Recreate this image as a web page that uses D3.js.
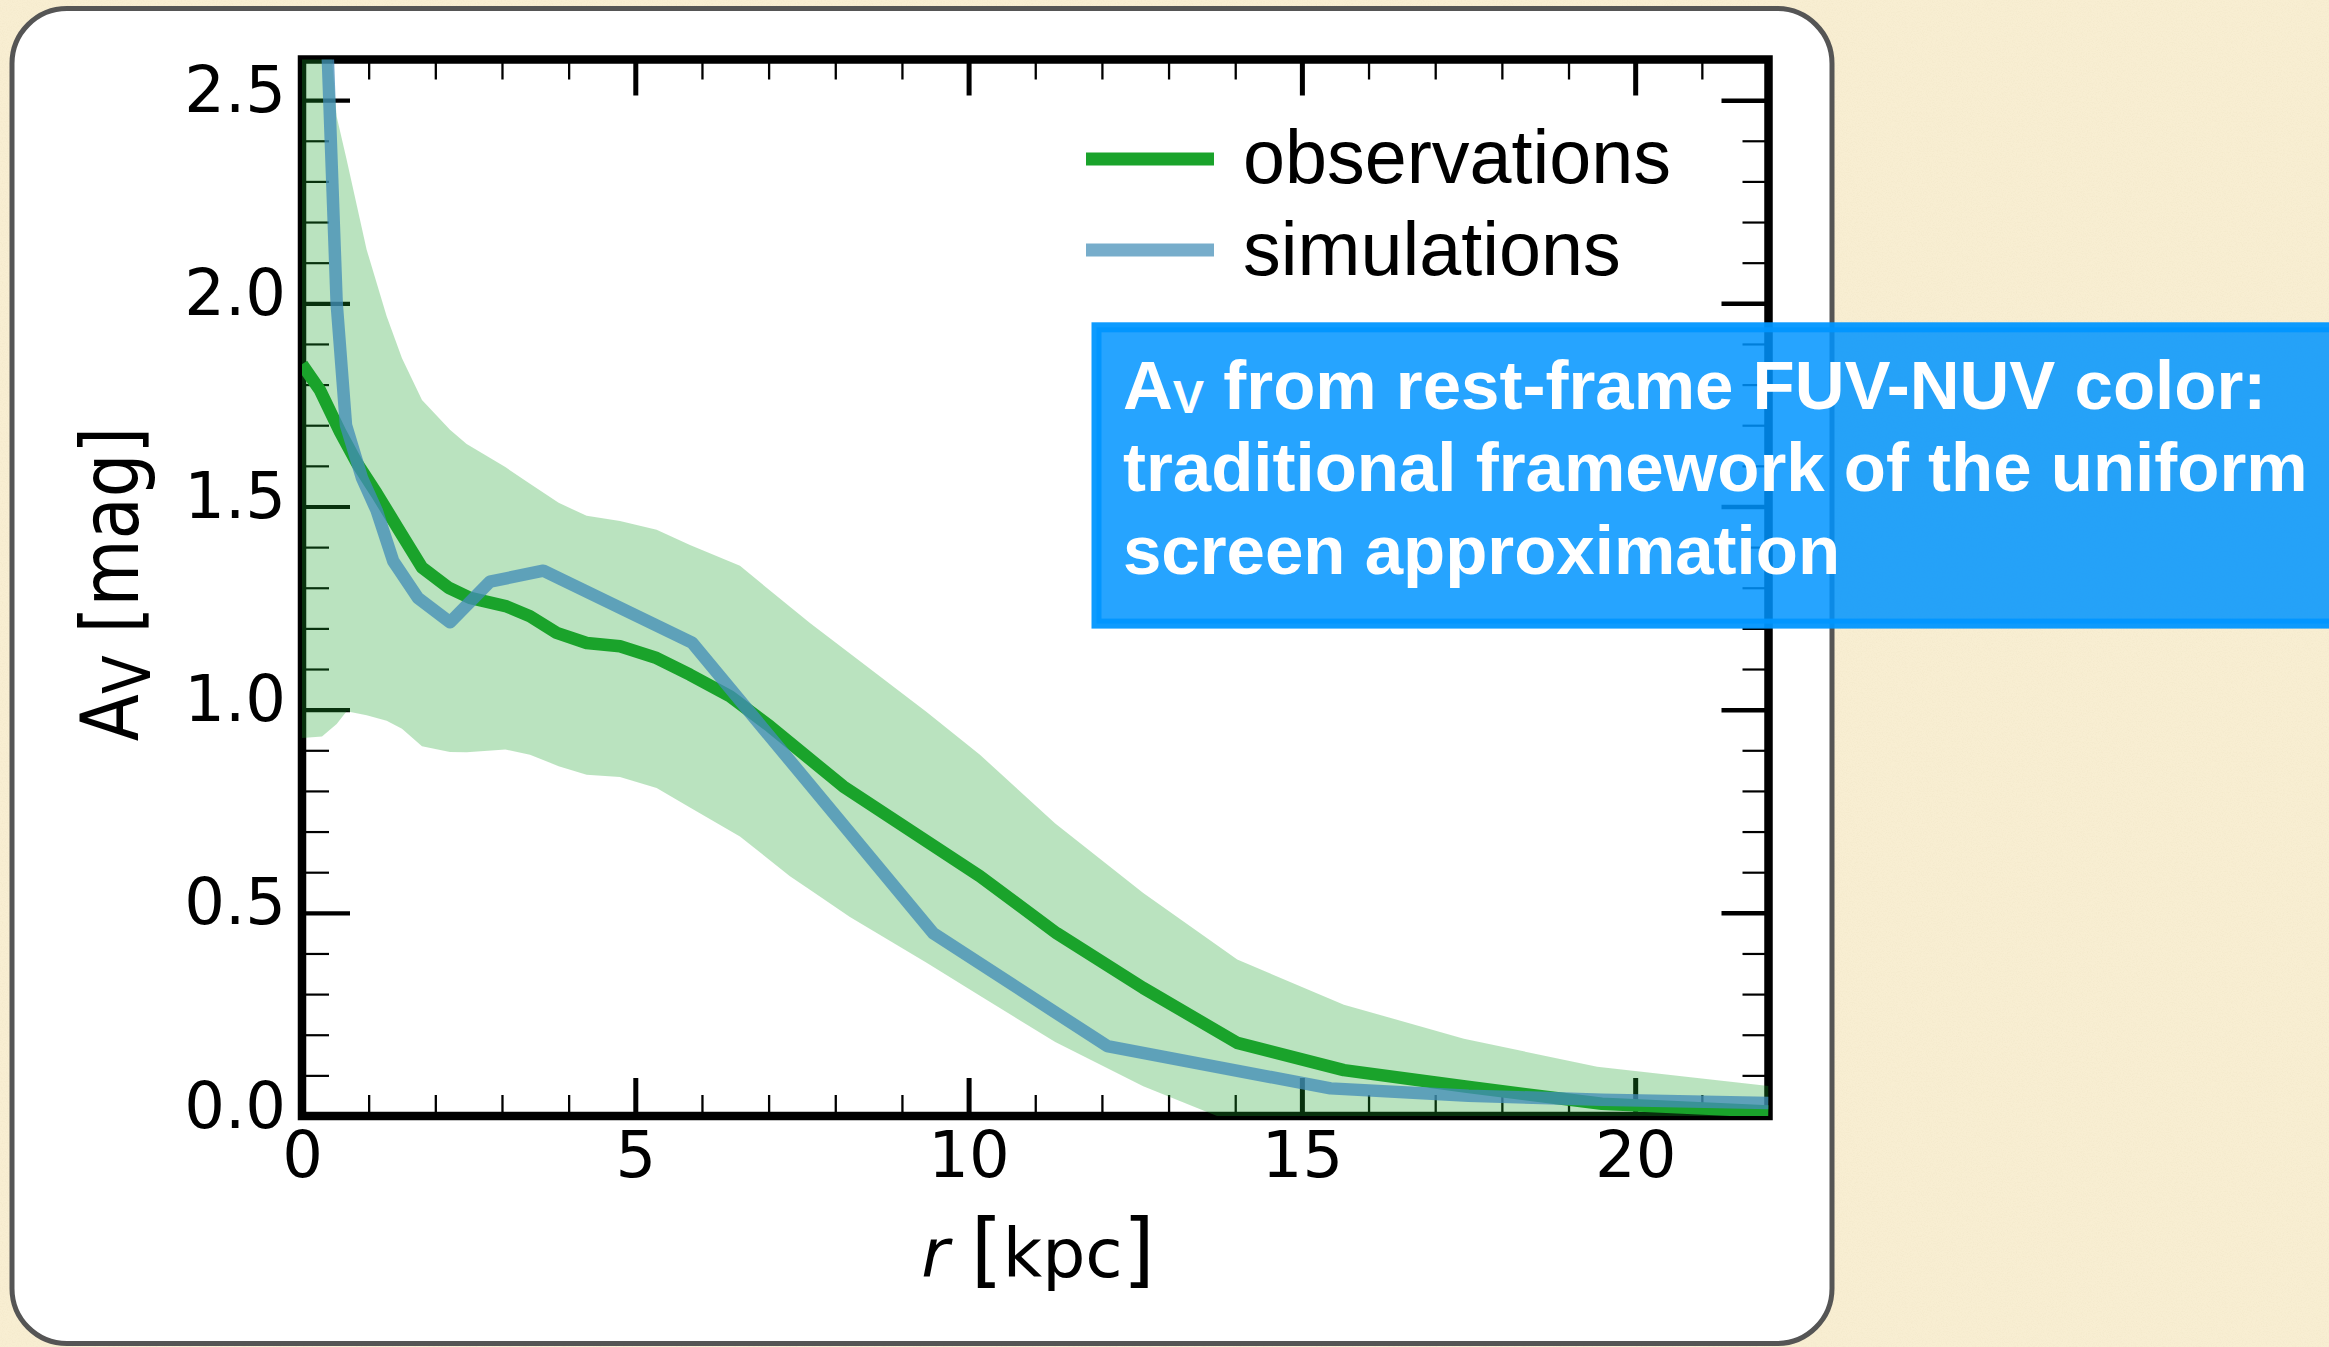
<!DOCTYPE html>
<html>
<head>
<meta charset="utf-8">
<script src="https://cdn.jsdelivr.net/npm/d3@7"></script>
<style>
  html, body { margin: 0; padding: 0; background: #f8eed2; overflow: hidden; }
  svg { display: block; }
  text { white-space: pre; }
</style>
</head>
<body>
<svg id="chart" width="2329" height="1347"></svg>
<script>
// Radial profile of dust attenuation A_V: observed median with scatter band, and simulated profile

// observations (median profile)
const radiusObs = [0, 0.27, 0.57, 0.82, 1.12, 1.47, 1.80, 2.2, 2.52, 3.07, 3.42, 3.82, 4.27, 4.77, 5.32, 5.82, 6.42, 7.02, 8.12, 10.17, 11.32, 12.62, 14.03, 15.63, 17.48, 19.5, 22];
const avObs     = [1.85, 1.786, 1.684, 1.608, 1.532, 1.438, 1.35, 1.30, 1.275, 1.254, 1.23, 1.189, 1.164, 1.156, 1.127, 1.086, 1.033, 0.959, 0.811, 0.59, 0.45, 0.315, 0.18, 0.113, 0.072, 0.03, 0.011];

// observations (scatter envelope)
const radiusBand = [0, 0.3, 0.52, 0.67, 0.97, 1.27, 1.5, 1.8, 2.22, 2.47, 3.05, 3.42, 3.85, 4.27, 4.77, 5.32, 5.82, 6.57, 7.32, 7.62, 8.22, 9.37, 10.17, 11.3, 12.62, 14.03, 15.63, 17.43, 19.43, 22];
const bandHigh   = [3.6, 2.9, 2.46, 2.353, 2.132, 1.968, 1.865, 1.762, 1.689, 1.654, 1.597, 1.556, 1.509, 1.477, 1.464, 1.443, 1.405, 1.354, 1.253, 1.213, 1.138, 0.994, 0.889, 0.72, 0.549, 0.385, 0.274, 0.19, 0.121, 0.074];
const bandLow    = [0.93, 0.934, 0.965, 0.996, 0.986, 0.973, 0.953, 0.910, 0.896, 0.895, 0.902, 0.889, 0.861, 0.840, 0.834, 0.807, 0.759, 0.688, 0.59, 0.557, 0.49, 0.377, 0.296, 0.182, 0.073, -0.02, -0.06, -0.09, -0.1, -0.12];

// simulations
const radiusSim = [0.3, 0.52, 0.66, 0.9, 1.12, 1.37, 1.74, 2.22, 2.82, 3.62, 5.85, 9.47, 12.08, 15.43, 17.5, 19.5, 22];
const avSim     = [3.0, 2.0, 1.70, 1.57, 1.49, 1.365, 1.275, 1.215, 1.315, 1.342, 1.165, 0.45, 0.172, 0.068, 0.05, 0.04, 0.032];

// axes
const xMajorTicks = [0, 5, 10, 15, 20];
const xMinorTicks = [1, 2, 3, 4, 6, 7, 8, 9, 11, 12, 13, 14, 16, 17, 18, 19, 21];
const yMajorTicks = [0, 0.5, 1.0, 1.5, 2.0, 2.5];
const yMinorTicks = [0.1, 0.2, 0.3, 0.4, 0.6, 0.7, 0.8, 0.9, 1.1, 1.2, 1.3, 1.4, 1.6, 1.7, 1.8, 1.9, 2.1, 2.2, 2.3, 2.4];

const seriesNames = ["observations", "simulations"];
const noteLines = [" from rest-frame FUV-NUV color:", "traditional framework of the uniform", "screen approximation"];

const W = 2329, H = 1347;
const GREEN = "#1aa32b";
const BLUE = "rgb(67,141,183)";

const svg = d3.select("#chart");
const defs = svg.append("defs");

// light paper grain for the backdrop
const grain = defs.append("filter").attr("id", "grain")
  .attr("x", 0).attr("y", 0).attr("width", "100%").attr("height", "100%");
grain.append("feTurbulence").attr("type", "fractalNoise")
  .attr("baseFrequency", 0.8).attr("numOctaves", 2).attr("seed", 7).attr("result", "n");
grain.append("feColorMatrix").attr("in", "n").attr("type", "matrix")
  .attr("values", "0 0 0 0 0.62  0 0 0 0 0.52  0 0 0 0 0.30  0.45 0 0 0 -0.2");

svg.append("rect").attr("width", W).attr("height", H).attr("fill", "#f8eed2");
svg.append("rect").attr("width", W).attr("height", H).attr("filter", "url(#grain)").attr("opacity", 0.5);

// white card
svg.append("rect")
  .attr("x", 12).attr("y", 8.5).attr("width", 1820).attr("height", 1335).attr("rx", 55)
  .attr("fill", "#fff").attr("stroke", "#555").attr("stroke-width", 5);

// scales
const x = d3.scaleLinear().domain([0, 22]).range([302, 1768.5]);
const y = d3.scaleLinear().domain([0, 2.6]).range([1116, 59.5]);
const [px0, px1] = x.range();
const [py0, py1] = y.range();

defs.append("clipPath").attr("id", "plotClip")
  .append("rect").attr("x", px0).attr("y", py1).attr("width", px1 - px0).attr("height", py0 - py1);

// ticks on all four sides, pointing inward
const axesG = svg.append("g");
function tickRow(gen, transform, values, size, width, fmt) {
  const g = axesG.append("g").attr("transform", transform)
    .call(gen.tickValues(values).tickSize(size).tickSizeOuter(0).tickFormat(fmt || ""));
  g.select(".domain").remove();
  g.selectAll(".tick line").attr("stroke", "#000").attr("stroke-width", width);
  g.attr("font-family", "DejaVu Sans").attr("font-size", 64);
  return g;
}

tickRow(d3.axisBottom(x), `translate(0,${py0})`, xMinorTicks, -21, 2.3);
const xb = tickRow(d3.axisBottom(x), `translate(0,${py0})`, xMajorTicks, -38, 5, d3.format("d"));
xb.selectAll(".tick text").attr("y", 61).attr("dy", 0).attr("fill", "#000");

tickRow(d3.axisTop(x), `translate(0,${py1})`, xMinorTicks, -20, 2.3);
tickRow(d3.axisTop(x), `translate(0,${py1})`, xMajorTicks, -36, 5);

tickRow(d3.axisLeft(y), `translate(${px0},0)`, yMinorTicks, -27, 2.2);
const yl = tickRow(d3.axisLeft(y), `translate(${px0},0)`, yMajorTicks, -48, 4.2, d3.format(".1f"));
yl.selectAll(".tick text").attr("x", -16).attr("y", 11).attr("dy", 0).attr("fill", "#000");

tickRow(d3.axisRight(y), `translate(${px1},0)`, yMinorTicks, -26, 2.2);
tickRow(d3.axisRight(y), `translate(${px1},0)`, yMajorTicks, -47, 4.5);

// spines
axesG.append("rect")
  .attr("x", px0).attr("y", py1).attr("width", px1 - px0).attr("height", py0 - py1)
  .attr("fill", "none").attr("stroke", "#000").attr("stroke-width", 8.5);

// data layer
const plot = svg.append("g").attr("clip-path", "url(#plotClip)");

const bandData = radiusBand.map((r, i) => ({ r, lo: bandLow[i], hi: bandHigh[i] }));
plot.append("path")
  .datum(bandData)
  .attr("d", d3.area().x(d => x(d.r)).y0(d => y(d.lo)).y1(d => y(d.hi)))
  .attr("fill", GREEN).attr("fill-opacity", 0.3);

const line = d3.line().x(d => x(d[0])).y(d => y(d[1]));
plot.append("path")
  .datum(radiusObs.map((r, i) => [r, avObs[i]]))
  .attr("d", line)
  .attr("fill", "none").attr("stroke", GREEN).attr("stroke-width", 12.5)
  .attr("stroke-linejoin", "round");

plot.append("path")
  .datum(radiusSim.map((r, i) => [r, avSim[i]]))
  .attr("d", line)
  .attr("fill", "none").attr("stroke", BLUE).attr("stroke-opacity", 0.77).attr("stroke-width", 12.5)
  .attr("stroke-linejoin", "round");

// axis titles
const yTitle = svg.append("text")
  .attr("transform", "translate(138,584) rotate(-90) scale(0.86,1)")
  .attr("text-anchor", "middle").attr("font-family", "DejaVu Sans").attr("font-size", 80).attr("fill", "#000");
yTitle.append("tspan").text("A");
yTitle.append("tspan").attr("font-size", 66).attr("dy", 12).text("V");
yTitle.append("tspan").attr("dy", -12).text(" [mag]");

const xTitle = svg.append("text")
  .attr("x", 1038).attr("y", 1277)
  .attr("text-anchor", "middle").attr("font-family", "DejaVu Sans").attr("font-size", 68).attr("fill", "#000");
xTitle.append("tspan").attr("font-style", "italic").text("r");
xTitle.append("tspan").text(" ");
xTitle.append("tspan").attr("font-size", 82).text("[");
xTitle.append("tspan").text("kpc");
xTitle.append("tspan").attr("font-size", 82).text("]");

// legend
const legend = svg.append("g");
const legendRows = [
  { name: seriesNames[0], color: GREEN, opacity: 1, ly: 159, ty: 183 },
  { name: seriesNames[1], color: BLUE, opacity: 0.72, ly: 250, ty: 274.5 }
];
legendRows.forEach(row => {
  legend.append("line")
    .attr("x1", 1086).attr("x2", 1214).attr("y1", row.ly).attr("y2", row.ly)
    .attr("stroke", row.color).attr("stroke-opacity", row.opacity).attr("stroke-width", 13);
  legend.append("text")
    .attr("x", 1243).attr("y", row.ty)
    .attr("font-family", "Liberation Sans, Arial, Helvetica, sans-serif").attr("font-size", 75.5)
    .attr("fill", "#000").text(row.name);
});

// annotation box
const note = svg.append("g");
note.append("rect")
  .attr("x", 1096.5).attr("y", 327.3).attr("width", 1260).attr("height", 296.3)
  .attr("fill", "rgb(0,148,255)").attr("fill-opacity", 0.85)
  .attr("stroke", "rgb(0,150,255)").attr("stroke-opacity", 0.95).attr("stroke-width", 10);

const noteFont = "Liberation Sans, Arial, Helvetica, sans-serif";
const first = note.append("text")
  .attr("x", 1123).attr("y", 408.5)
  .attr("font-family", noteFont).attr("font-weight", "bold").attr("font-size", 69).attr("fill", "#fff");
first.append("tspan").text("A");
first.append("tspan").attr("font-size", 47).attr("dy", 4.5).text("V");
first.append("tspan").attr("dy", -4.5).text(noteLines[0]);

[noteLines[1], noteLines[2]].forEach((t, i) => {
  note.append("text")
    .attr("x", 1123).attr("y", 491 + i * 82.7)
    .attr("font-family", noteFont).attr("font-weight", "bold").attr("font-size", 69).attr("fill", "#fff")
    .text(t);
});
</script>
</body>
</html>
